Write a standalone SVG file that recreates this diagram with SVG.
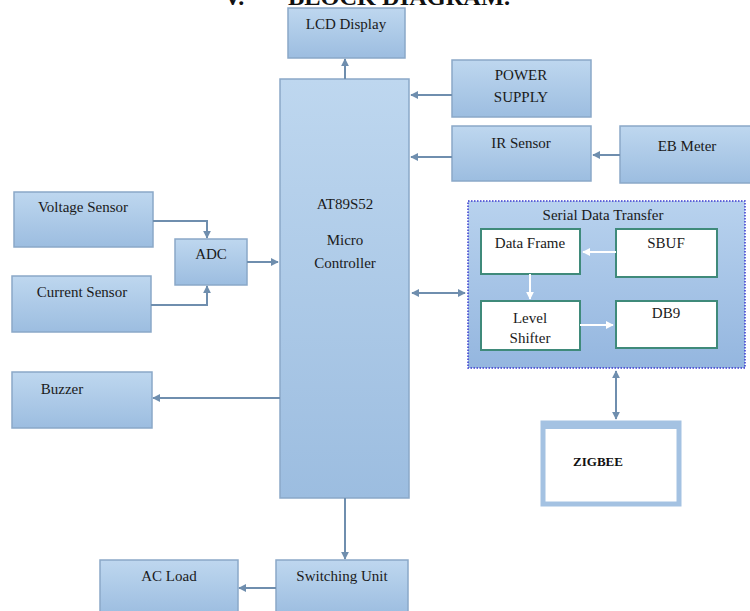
<svg xmlns="http://www.w3.org/2000/svg" width="750" height="611" viewBox="0 0 750 611">
<defs>
<linearGradient id="g" x1="0" y1="0" x2="0" y2="1">
<stop offset="0" stop-color="#bed7ef"/>
<stop offset="1" stop-color="#9cbde0"/>
</linearGradient>
<linearGradient id="gs" x1="0" y1="0" x2="0" y2="1">
<stop offset="0" stop-color="#b8d2ee"/>
<stop offset="1" stop-color="#94b6df"/>
</linearGradient>
<marker id="a" viewBox="0 0 10 10" refX="9" refY="5" markerWidth="4" markerHeight="4" orient="auto-start-reverse">
<path d="M0,0 L10,5 L0,10 z" fill="#6f8eae"/>
</marker>
<marker id="w" viewBox="0 0 10 10" refX="9" refY="5" markerWidth="4" markerHeight="4" orient="auto-start-reverse">
<path d="M0,0 L10,5 L0,10 z" fill="#ffffff"/>
</marker>
</defs>
<style>
.b{fill:url(#g);stroke:#8aa8c8;stroke-width:1.5}
.t{font-family:"Liberation Serif","Times New Roman",serif;font-size:15px;fill:#1a1a1a;text-anchor:middle}
.h{font-family:"Liberation Serif","Times New Roman",serif;font-size:24px;font-weight:bold;fill:#111}
.c{fill:none;stroke:#6f8eae;stroke-width:2;marker-end:url(#a)}
.d{fill:none;stroke:#6f8eae;stroke-width:2;marker-start:url(#a);marker-end:url(#a)}
.i{fill:#ffffff;stroke:#3f8a7a;stroke-width:2}
.wc{fill:none;stroke:#ffffff;stroke-width:2;marker-end:url(#w)}
</style>
<rect width="750" height="611" fill="#ffffff"/>
<text class="h" x="224" y="5">V.</text>
<text class="h" x="288" y="5" textLength="222" lengthAdjust="spacingAndGlyphs">BLOCK DIAGRAM.</text>

<g id="lcd"><rect class="b" x="288" y="8" width="117" height="50"/><text class="t" x="346" y="29">LCD Display</text></g>
<g id="mc"><rect class="b" x="280" y="79" width="129" height="419"/>
<text class="t" x="345" y="209">AT89S52</text><text class="t" x="345" y="245">Micro</text><text class="t" x="345" y="268">Controller</text></g>
<g id="power"><rect class="b" x="452" y="60" width="139" height="57"/><text class="t" x="521" y="80">POWER</text><text class="t" x="521" y="102">SUPPLY</text></g>
<g id="ir"><rect class="b" x="452" y="126" width="139" height="55"/><text class="t" x="521" y="148">IR Sensor</text></g>
<g id="eb"><rect class="b" x="620" y="126" width="132" height="57"/><text class="t" x="687" y="151">EB Meter</text></g>
<g id="volt"><rect class="b" x="14" y="192" width="139" height="55"/><text class="t" x="83" y="212">Voltage Sensor</text></g>
<g id="curr"><rect class="b" x="12" y="276" width="139" height="56"/><text class="t" x="82" y="297">Current Sensor</text></g>
<g id="adc"><rect class="b" x="175" y="239" width="72" height="46"/><text class="t" x="211" y="259">ADC</text></g>
<g id="buzzer"><rect class="b" x="12" y="372" width="140" height="56"/><text class="t" x="62" y="394">Buzzer</text></g>
<g id="switch"><rect class="b" x="276" y="560" width="132" height="55"/><text class="t" x="342" y="581">Switching Unit</text></g>
<g id="acload"><rect class="b" x="100" y="560" width="138" height="55"/><text class="t" x="169" y="581">AC Load</text></g>

<g id="sdt">
<rect x="468" y="201" width="277" height="167" fill="url(#gs)" stroke="#3a3ad0" stroke-width="1.5" stroke-dasharray="1.5,1.5"/>
<text class="t" x="603" y="220">Serial Data Transfer</text>
</g>
<g id="dataframe"><rect class="i" x="481" y="229" width="99" height="45"/><text class="t" x="530" y="248">Data Frame</text></g>
<g id="sbuf"><rect class="i" x="616" y="229" width="101" height="48"/><text class="t" x="666" y="248">SBUF</text></g>
<g id="level"><rect class="i" x="481" y="301" width="99" height="49"/><text class="t" x="530" y="323">Level</text><text class="t" x="530" y="343">Shifter</text></g>
<g id="db9"><rect class="i" x="616" y="301" width="101" height="47"/><text class="t" x="666" y="318">DB9</text></g>

<g id="zigbee">
<rect x="543" y="423" width="136" height="81" fill="#ffffff" stroke="#a4c2e2" stroke-width="5"/>
<rect x="543" y="423" width="136" height="6" fill="#a4c2e2"/>
<rect x="557" y="429" width="101" height="2" fill="#ffffff"/>
<text x="598" y="466" style="font-family:'Liberation Serif',serif;font-size:13px;font-weight:bold;text-anchor:middle;fill:#111">ZIGBEE</text>
</g>

<g id="connectors">
<path class="c" d="M345,79 V59"/>
<path class="c" d="M452,95 H411"/>
<path class="c" d="M452,157 H411"/>
<path class="c" d="M620,155 H593"/>
<path class="c" d="M153,221 H207 V238"/>
<path class="c" d="M151,305 H207 V286"/>
<path class="c" d="M247,262 H278"/>
<path class="c" d="M280,398 H153"/>
<path class="c" d="M345,498 V559"/>
<path class="c" d="M276,588 H239"/>
<path class="d" d="M412,293 H465"/>
<path class="d" d="M616,371 V419"/>
<path class="wc" d="M616,252 H583"/>
<path class="wc" d="M530,274 V299"/>
<path class="wc" d="M580,325 H613"/>
</g>
</svg>
